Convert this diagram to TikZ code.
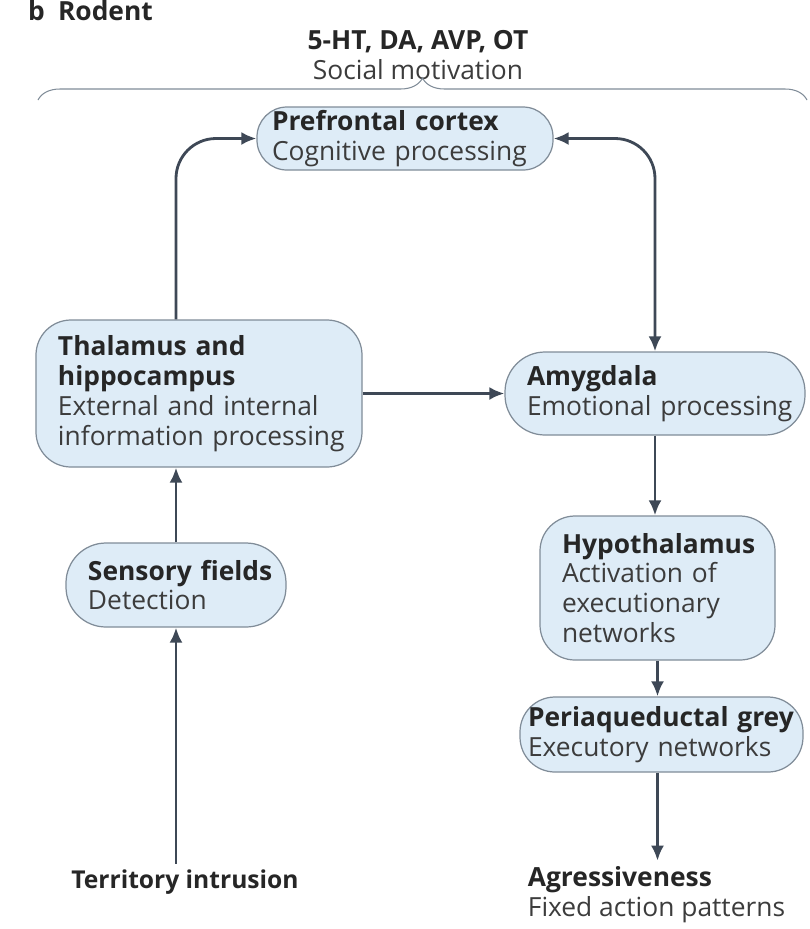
\documentclass[tikz,border=0pt]{standalone}
\usepackage{fontspec}
\setmainfont{Open Sans}
\usetikzlibrary{arrows.meta,decorations.pathreplacing}

\definecolor{boxblue}{RGB}{222,236,247}
\definecolor{boxline}{RGB}{128,140,152}
\definecolor{arrowgrey}{RGB}{62,72,86}
\definecolor{textgrey}{RGB}{60,60,60}

\tikzset{
  region/.style={draw=boxline,fill=boxblue,line width=0.7pt,rounded corners=0.6cm,
    align=left,inner xsep=0.44cm,inner ysep=0pt,text=textgrey,
    font=\fontsize{15}{17}\selectfont},
  label/.style={align=left,text=textgrey,font=\fontsize{15}{17}\selectfont},
  flow/.style={-{Latex[length=0.3cm,width=0.26cm]},line width=1.6pt,draw=arrowgrey},
}
% bold heading line, kept on one line
\newcommand{\ttl}[1]{\mbox{\bfseries\color{black!85}#1}}

\begin{document}
\begin{tikzpicture}
  \useasboundingbox (0,0) rectangle (16.2,-18.58);

  % panel letter and modulators
  \node[label,anchor=base west] (panel) at (0.44,-0.4) {\ttl{b}\enspace\ttl{Rodent}};
  \node[label,align=center] (modulators) at (8.36,-1.1) {\ttl{5-HT, DA, AVP, OT}\\Social motivation};
  \draw[boxline,line width=0.6pt,decorate,decoration={brace,amplitude=0.44cm}]
    (0.76,-2.0) -- (16.14,-2.0);

  % brain regions
  \node[region,text width=5.32cm,inner xsep=0.3cm,minimum height=1.26cm] (pfc) at (8.1,-2.77)
    {\ttl{Prefrontal cortex}\\\mbox{Cognitive processing}};
  \node[region,text width=5.64cm,minimum height=2.94cm,rounded corners=0.7cm] (thalamus) at (3.98,-7.87)
    {\ttl{Thalamus and}\\\ttl{hippocampus}\\\mbox{External and internal}\\\mbox{information processing}};
  \node[region,text width=5.12cm,inner xsep=0.44cm,minimum height=1.66cm,rounded corners=0.8cm] (amygdala) at (13.1,-7.87)
    {\ttl{Amygdala}\\\mbox{Emotional processing}};
  \node[region,text width=3.52cm,minimum height=1.68cm,rounded corners=0.8cm] (sensory) at (3.52,-11.7)
    {\ttl{Sensory fields}\\Detection};
  \node[region,text width=3.82cm,minimum height=2.88cm,rounded corners=0.7cm] (hypothalamus) at (13.15,-11.76)
    {\ttl{Hypothalamus}\\Activation of\\executionary\\networks};
  \node[region,text width=5.34cm,inner xsep=0.16cm,minimum height=1.5cm,rounded corners=0.7cm] (pag) at (13.23,-14.69)
    {\ttl{Periaqueductal grey}\\\mbox{Executory networks}};

  % input and output
  \node[label,font=\fontsize{14}{17}\selectfont] (intrusion) at (3.7,-17.64) {\ttl{Territory intrusion}};
  \node[label] (aggression) at (13.13,-17.9) {\ttl{Agressiveness}\\Fixed action patterns};

  % connections
  \draw[flow] (intrusion.north -| sensory.south) -- (sensory.south);
  \draw[flow] (sensory.north) -- (sensory.north |- thalamus.south);
  \draw[flow,rounded corners=0.8cm] (sensory.north |- thalamus.north) |- (pfc.west);
  \draw[flow,{Latex[length=0.3cm,width=0.26cm]}-{Latex[length=0.3cm,width=0.26cm]},rounded corners=0.8cm]
    (pfc.east) -| (amygdala.north);
  \draw[flow] (thalamus.east |- amygdala.west) -- (amygdala.west);
  \draw[flow] (amygdala.south) -- (amygdala.south |- hypothalamus.north);
  \draw[flow] (hypothalamus.south) -- (hypothalamus.south |- pag.north);
  \draw[flow] (hypothalamus.south |- pag.south) -- (hypothalamus.south |- aggression.north);
\end{tikzpicture}
\end{document}
